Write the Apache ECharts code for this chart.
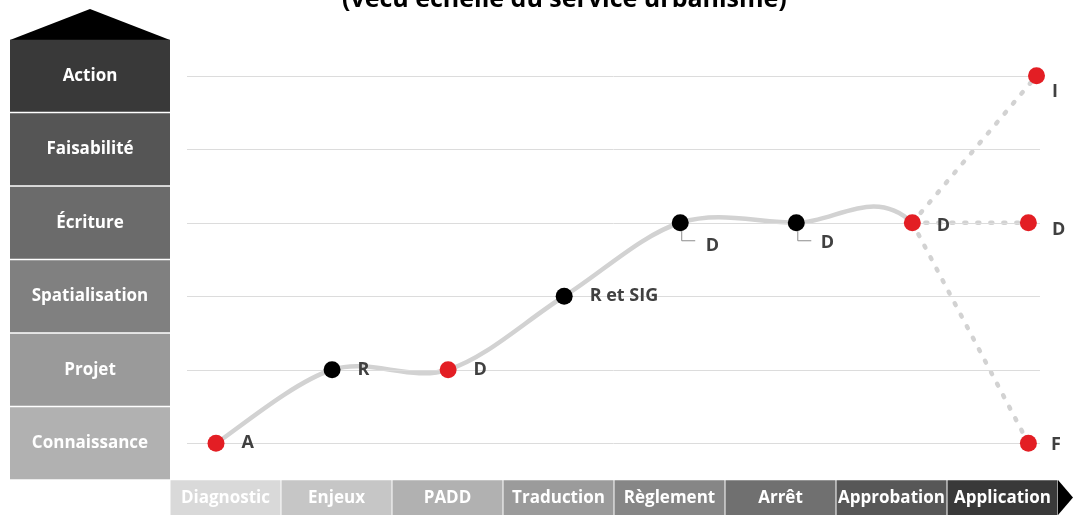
<!DOCTYPE html>
<html><head><meta charset="utf-8">
<script src="https://cdn.jsdelivr.net/npm/echarts@6/dist/echarts.min.js"></script>
<style>html,body{margin:0;padding:0;background:#fff}#c{width:1073px;height:515px}</style>
</head><body><div id="c"></div>
<script>
const titleText = '(vécu échelle du service urbanisme)';
const levels = ['Connaissance','Projet','Spatialisation','Écriture','Faisabilité','Action'];
const phases = ['Diagnostic','Enjeux','PADD','Traduction','Règlement','Arrêt','Approbation','Application'];
const pathX = [0,1,2,3,4,5,6];
const pathLevel = ['Connaissance','Projet','Projet','Spatialisation','Écriture','Écriture','Écriture'];
const pathLabels = ['A','R','D','R et SIG','D','D','D'];
const pathKinds = ['red','black','red','black','black','black','red'];
const branchX = [7.07, 7, 7];
const branchLevel = ['Action','Écriture','Connaissance'];
const branchLabels = ['I','D','F'];
const branchKinds = ['red','red','red'];
const leaderPoints = [4, 5]; // path points whose label hangs below with a leader line

const levelColors = ['#b1b1b1','#9a9a9a','#808080','#6b6b6b','#555555','#393939'];
const phaseColors = ['#d9d9d9','#c6c6c6','#b1b1b1','#9b9b9b','#868686','#707070','#575757','#393939'];
const kindColor = {red:'#e31e24', black:'#000000'};
const FONT = 'Open Sans';

const levelRich = {};
levels.forEach((l,i)=>{ levelRich['l'+i] = {width:160,height:72,lineHeight:72,align:'center',backgroundColor:levelColors[i],color:'#fff',fontWeight:'bold',fontSize:17,fontFamily:FONT}; });
const phaseRich = {};
phases.forEach((p,i)=>{ phaseRich['p'+i] = {width:110,height:35,lineHeight:35,align:'center',backgroundColor:phaseColors[i],color:'#fff',fontWeight:'bold',fontSize:17,fontFamily:FONT}; });

// label displacement (styling only)
const labelOffsets = {4:[0,23],5:[-1,20],6:[-1,3],7:[-10,16],8:[-2,7],9:[-3,2]};

const allX = pathX.concat(branchX);
const allLevel = pathLevel.concat(branchLevel);
const allLabels = pathLabels.concat(branchLabels);
const allKinds = pathKinds.concat(branchKinds);

const markerData = allX.map((x,i)=>({value:[x, allLevel[i]], name: allLabels[i], itemStyle:{color:kindColor[allKinds[i]], opacity:1}}));

const branchSeries = branchX.map((bx,i)=>({
  type:'line', xAxisIndex:0, yAxisIndex:0, symbol:'none', silent:true, z:3,
  data:[[pathX[pathX.length-1], pathLevel[pathLevel.length-1]],[bx, branchLevel[i]]],
  lineStyle:{color:'#d2d2d2', width:4.5, type:[2,11], cap:'round'}
}));

// smooth path (Catmull-Rom through the data points, via the axes' scales)
function curveItem(params, api){
  const n = pathX.length;
  const i = params.dataIndex;
  if (i >= n-1) return null;
  const P = pathX.map((x,k)=>api.coord([x, levels.indexOf(pathLevel[k])]));
  const tail = api.coord([branchX[2], levels.indexOf(branchLevel[2])]);
  const p0 = i>0 ? P[i-1] : P[i];
  const p1 = P[i], p2 = P[i+1];
  const p3 = i+2<n ? P[i+2] : tail;
  return {
    type:'bezierCurve',
    shape:{x1:p1[0],y1:p1[1],x2:p2[0],y2:p2[1],
      cpx1:p1[0]+(p2[0]-p0[0])/6, cpy1:p1[1]+(p2[1]-p0[1])/6,
      cpx2:p2[0]-(p3[0]-p1[0])/6, cpy2:p2[1]-(p3[1]-p1[1])/6},
    style:{stroke:'#d2d2d2', lineWidth:4.5, fill:null, lineCap:'round'},
    silent:true
  };
}

function leaderItem(params, api){
  const k = leaderPoints[params.dataIndex];
  const p = api.coord([pathX[k], levels.indexOf(pathLevel[k])]);
  return {
    type:'polyline',
    shape:{points:[[p[0]+1.5, p[1]+3],[p[0]+1.5, p[1]+18],[p[0]+15, p[1]+18]]},
    style:{stroke:'#8c8c8c', lineWidth:1, fill:null},
    silent:true
  };
}

const option = {
  animation:false,
  title:{text:titleText, left:337, top:-18, textStyle:{fontSize:25,fontWeight:'bold',color:'#000',fontFamily:FONT}},
  grid:[
    {left:187, right:33, top:39, bottom:35},
    {left:170, right:15, top:479, bottom:35}
  ],
  xAxis:[
    {type:'value', gridIndex:0, min:-0.25, max:7.1, show:false},
    {type:'category', gridIndex:1, data:phases, position:'bottom',
     axisLine:{show:false}, axisTick:{show:false}, splitLine:{show:false},
     axisLabel:{interval:0, margin:1, formatter:(v,i)=>'{p'+i+'|'+v+'}', rich:phaseRich}}
  ],
  yAxis:[
    {type:'category', gridIndex:0, data:levels, boundaryGap:true,
     axisLine:{show:false}, axisTick:{show:false}, splitLine:{show:false},
     axisLabel:{interval:0, margin:17, formatter:(v,i)=>'{l'+i+'|'+v+'}', rich:levelRich}},
    {type:'value', gridIndex:1, show:false}
  ],
  graphic:[
    {type:'polygon', shape:{points:[[10,40],[90,9],[170,40]]}, style:{fill:'#000'}, silent:true},
    {type:'polygon', shape:{points:[[1058,480],[1073,497.5],[1058,515]]}, style:{fill:'#000'}, silent:true}
  ],
  series:[
    {type:'line', xAxisIndex:0, yAxisIndex:0, data:[], z:1, silent:true,
     markLine:{silent:true, symbol:'none', label:{show:false},
       lineStyle:{color:'#dcdcdc', width:1, type:'solid'},
       data: levels.map(l=>({yAxis:l}))}},
    {type:'custom', xAxisIndex:0, yAxisIndex:0, z:2, silent:true, clip:false,
     data: pathX.map((x,i)=>[x, levels.indexOf(pathLevel[i])]),
     encode:{x:0, y:1},
     renderItem: curveItem},
    ...branchSeries,
    {type:'custom', xAxisIndex:0, yAxisIndex:0, z:4, silent:true, clip:false,
     data: leaderPoints.map(k=>[pathX[k], levels.indexOf(pathLevel[k])]),
     encode:{x:0, y:1},
     renderItem: leaderItem},
    {type:'scatter', xAxisIndex:0, yAxisIndex:0, symbolSize:17, z:5, silent:true,
     data: markerData,
     label:{show:true, position:'right', distance:17, formatter:p=>p.name,
       fontSize:18, fontWeight:'bold', color:'#404040', fontFamily:FONT},
     labelLayout:(p)=>{ const o = labelOffsets[p.dataIndex]; return o ? {dx:o[0], dy:o[1]} : {}; }
    }
  ]
};
const chart = echarts.init(document.getElementById('c'), null, {renderer:'canvas'});
chart.setOption(option);
</script>
</body></html>
